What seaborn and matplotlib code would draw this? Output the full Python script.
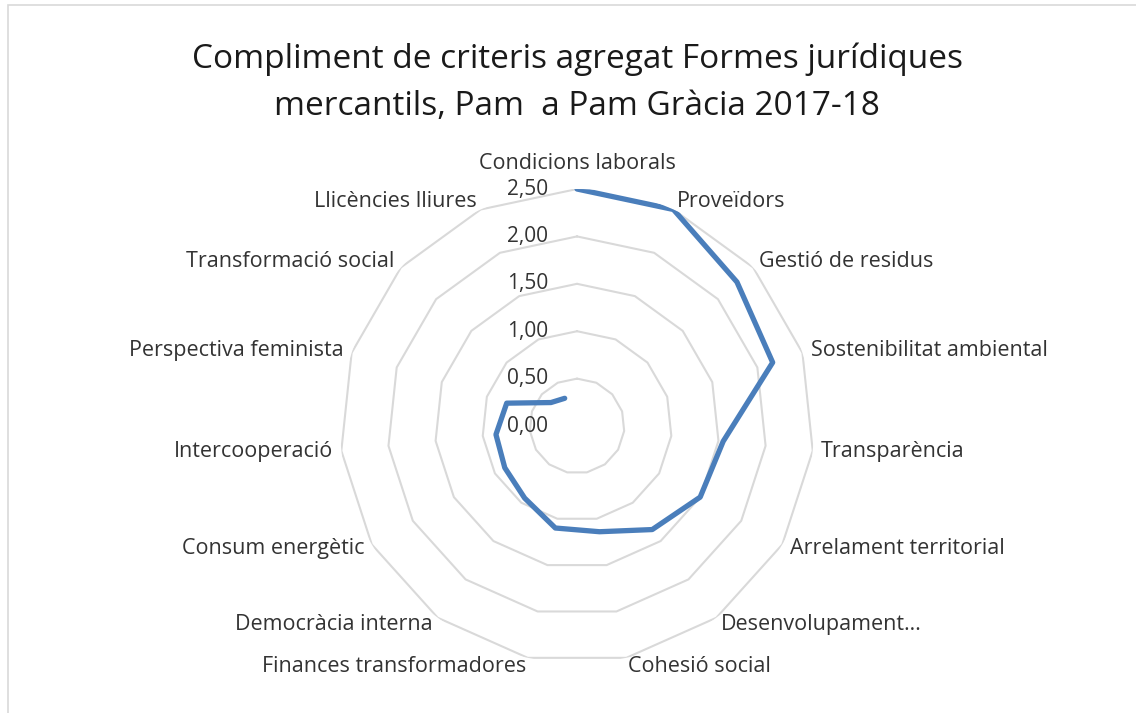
import seaborn as sns
import matplotlib.pyplot as plt
import matplotlib.transforms as mtrans
from matplotlib.patches import Rectangle
import numpy as np
import pandas as pd

categories = ["Condicions laborals", "Proveïdors", "Gestió de residus",
              "Sostenibilitat ambiental", "Transparència", "Arrelament territorial",
              "Desenvolupament…", "Cohesió social", "Finances transformadores",
              "Democràcia interna", "Consum energètic", "Intercooperació",
              "Perspectiva feminista", "Transformació social", "Llicències lliures"]
values = [2.50, 2.50, 2.27, 2.17, 1.55, 1.50, 1.35, 1.14, 1.10, 0.94, 0.88, 0.86, 0.78, 0.37, 0.32]
levels = [0.0, 0.5, 1.0, 1.5, 2.0, 2.5]
level_labels = ["0,00", "0,50", "1,00", "1,50", "2,00", "2,50"]
title = "Compliment de criteris agregat Formes jurídiques\nmercantils, Pam  a Pam Gràcia 2017-18"

sns.set_style("white")
plt.rcParams['font.family'] = ['Open Sans', 'DejaVu Sans']

n = len(categories)
angles = np.arange(n) * 2 * np.pi / n
df = pd.DataFrame({"angle": np.append(angles, angles[0]),
                   "value": values + values[:1]})

fig = plt.figure(figsize=(11.36, 7.13), dpi=100)
ax = fig.add_axes([0.2993, 0.0701, 0.4173, 0.6648], projection='polar')
ax.set_theta_offset(np.pi / 2)
ax.set_theta_direction(-1)

# polygon gridlines like the spreadsheet radar
for lv in levels[1:]:
    ax.plot(np.append(angles, angles[0]), [lv] * (n + 1), color="#d9d9d9", lw=1.5, zorder=1)

sns.lineplot(data=df, x="angle", y="value", sort=False, color="#4a7ebb",
             linewidth=3.8, ax=ax, zorder=3)

ax.set_ylim(0, 2.5)
ax.grid(False)
ax.spines['polar'].set_visible(False)
ax.set_xticks([])
ax.set_yticks([])
ax.set_xlabel("")
ax.set_ylabel("")
ax.set_facecolor("none")

# radial value labels
off = mtrans.offset_copy(ax.transData, fig=fig, x=-29, y=0, units='dots')
for lv, lab in zip(levels, level_labels):
    ax.text(0, lv, lab, transform=off, ha='right', va='center', fontsize=15, color="#333333")

# category labels
r_lab = 2.59
for a, c in zip(angles, categories):
    deg = np.degrees(a)
    if deg == 0:
        ha, va, r = 'center', 'bottom', 2.66
    elif deg < 180:
        ha, va, r = 'left', 'center', r_lab
    else:
        ha, va, r = 'right', 'center', r_lab
    ax.text(a, r, c, ha=ha, va=va, fontsize=15.5, color="#333333", clip_on=False)

fig.text(0.508, 0.884, title, ha='center', va='center', fontsize=24,
         color="#1a1a1a", linespacing=1.58)

fig.patches.append(Rectangle((8 / 1136, -0.01), 1.2, (713 - 5) / 713 + 0.01,
                             transform=fig.transFigure, fill=False,
                             edgecolor="#d9d9d9", lw=1.2))

fig.savefig("out.png", dpi=100)
